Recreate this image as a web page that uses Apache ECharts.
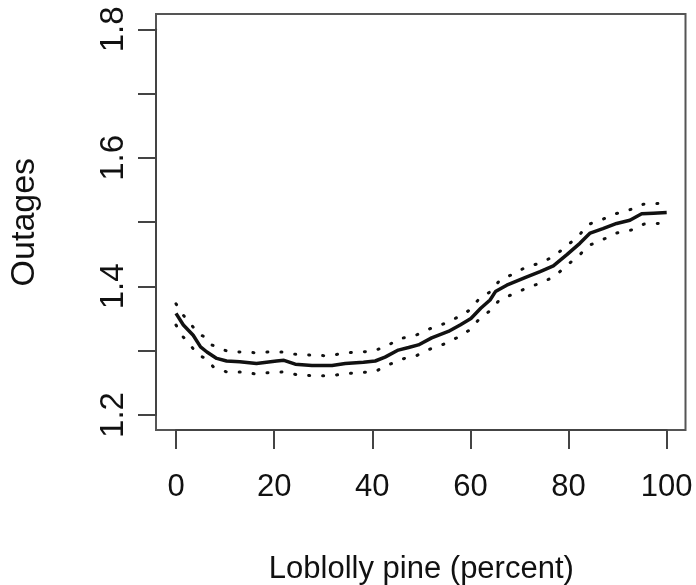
<!DOCTYPE html>
<html>
<head>
<meta charset="utf-8">
<script src="https://cdn.jsdelivr.net/npm/echarts@6/dist/echarts.min.js"></script>
<style>
  html, body { margin: 0; padding: 0; background: #fff; }
  #chart { width: 696px; height: 585px; }
</style>
</head>
<body>
<div id="chart"></div>
<script>
// Smoothed fit of outages against loblolly pine share, with its confidence band.
const pineFit = [0, 1.5, 3.5, 5, 6.3, 8.3, 10.3, 13, 16.4, 20.5, 22, 24.3, 27.7, 31.8, 34.5, 38.2, 40.6, 42.6, 45.3, 47.4, 49.4, 52.1, 55.5, 57.9, 60.1, 62.1, 64, 65.1, 67.4, 71.5, 74.2, 76.9, 79.6, 82.3, 84.4, 87, 89.8, 92.5, 94.9, 97.3, 100];
const outFit = [1.358, 1.340, 1.324, 1.306, 1.298, 1.288, 1.284, 1.283, 1.280, 1.284, 1.285, 1.279, 1.277, 1.277, 1.280, 1.282, 1.284, 1.290, 1.301, 1.305, 1.309, 1.320, 1.330, 1.340, 1.350, 1.366, 1.379, 1.392, 1.402, 1.415, 1.423, 1.432, 1.449, 1.467, 1.483, 1.490, 1.498, 1.503, 1.513, 1.514, 1.515];

const pineUpper = [0, 1.4, 3.0, 4.5, 6.1, 7.3, 10.2, 12.9, 15.9, 18.8, 21.7, 24.7, 28.0, 31.2, 34.0, 36.9, 40.0, 42.9, 45.6, 48.6, 51.3, 54.3, 57.1, 59.6, 61.7, 64.3, 65.9, 68.6, 71.3, 74.5, 77.2, 79.6, 82.0, 83.9, 86.8, 89.6, 92.4, 95.3, 98.3, 100];
const outUpper = [1.373, 1.356, 1.342, 1.326, 1.321, 1.309, 1.300, 1.298, 1.297, 1.298, 1.298, 1.294, 1.293, 1.292, 1.296, 1.298, 1.299, 1.307, 1.319, 1.323, 1.333, 1.341, 1.351, 1.362, 1.380, 1.393, 1.409, 1.419, 1.430, 1.437, 1.448, 1.463, 1.478, 1.496, 1.504, 1.513, 1.519, 1.528, 1.529, 1.529];

const pineLower = [0, 1.4, 3.0, 4.5, 6.1, 7.6, 10.3, 13.2, 16.1, 19.2, 22.0, 25.1, 28.2, 31.4, 34.3, 37.2, 40.4, 43.3, 46.0, 48.9, 51.6, 54.5, 57.2, 59.8, 61.9, 64.3, 66.0, 68.7, 71.6, 74.6, 77.2, 79.7, 82.1, 84.2, 87.0, 89.8, 92.9, 95.4, 98.6, 100];
const outLower = [1.340, 1.322, 1.308, 1.293, 1.288, 1.275, 1.267, 1.267, 1.264, 1.266, 1.267, 1.262, 1.261, 1.261, 1.264, 1.266, 1.267, 1.278, 1.287, 1.292, 1.302, 1.310, 1.320, 1.332, 1.350, 1.364, 1.380, 1.388, 1.398, 1.406, 1.416, 1.433, 1.448, 1.464, 1.473, 1.483, 1.488, 1.497, 1.498, 1.498];

const yTickLabels = ['1.2', '1.4', '1.6', '1.8'];
const xTitle = 'Loblolly pine (percent)';
const yTitle = 'Outages';

const FONT = '"Liberation Sans", Arial, Helvetica, sans-serif';
const AXIS_COLOR = '#444';
const TEXT_COLOR = '#111';

const zip = (xs, ys) => xs.map((x, i) => [x, ys[i]]);

const chart = echarts.init(document.getElementById('chart'), null, { renderer: 'canvas' });

const dottedStyle = {
  color: '#111',
  width: 3,
  type: [1, 13],
  cap: 'round'
};

chart.setOption({
  animation: false,
  backgroundColor: '#fff',
  grid: [
    // outer plot frame
    { left: 156, top: 14, width: 529.5, height: 416, show: true, borderColor: '#555', borderWidth: 2,
      backgroundColor: 'transparent', containLabel: false, outerBoundsMode: 'none' },
    // data region inside the frame
    { left: 176, top: 29.3, width: 490.7, height: 385.7, show: false,
      containLabel: false, outerBoundsMode: 'none' }
  ],
  xAxis: [
    { gridIndex: 0, type: 'value', show: false, min: 0, max: 1 },
    {
      gridIndex: 1, type: 'value', min: 0, max: 100, interval: 20, offset: 15,
      axisLine: { show: true, onZero: false, lineStyle: { color: AXIS_COLOR, width: 2 } },
      axisTick: { show: true, length: 19, lineStyle: { color: AXIS_COLOR, width: 2 } },
      axisLabel: { show: true, margin: 42, fontSize: 31, color: TEXT_COLOR, fontFamily: FONT },
      splitLine: { show: false },
      name: xTitle, nameLocation: 'middle', nameGap: 124,
      nameTextStyle: { fontSize: 31, color: TEXT_COLOR, fontFamily: FONT }
    }
  ],
  yAxis: [
    { gridIndex: 0, type: 'value', show: false, min: 0, max: 1 },
    {
      gridIndex: 1, type: 'value', min: 1.2, max: 1.8, interval: 0.1, offset: 20,
      axisLine: { show: true, onZero: false, lineStyle: { color: AXIS_COLOR, width: 2 } },
      axisTick: { show: true, length: 18, lineStyle: { color: AXIS_COLOR, width: 2 } },
      axisLabel: {
        show: true, rotate: 90, margin: 26, fontSize: 33, color: TEXT_COLOR, fontFamily: FONT,
        formatter: v => {
          const s = v.toFixed(1);
          return yTickLabels.includes(s) ? s : '';
        }
      },
      splitLine: { show: false },
      name: yTitle, nameLocation: 'middle', nameGap: 114,
      nameTextStyle: { fontSize: 34, color: TEXT_COLOR, fontFamily: FONT }
    }
  ],
  series: [
    {
      name: 'fit', type: 'line', xAxisIndex: 1, yAxisIndex: 1,
      data: zip(pineFit, outFit), showSymbol: false, smooth: false,
      lineStyle: { color: '#111', width: 3.5 }, z: 3
    },
    {
      name: 'upper', type: 'line', xAxisIndex: 1, yAxisIndex: 1,
      data: zip(pineUpper, outUpper), showSymbol: false,
      lineStyle: dottedStyle, z: 2
    },
    {
      name: 'lower', type: 'line', xAxisIndex: 1, yAxisIndex: 1,
      data: zip(pineLower, outLower), showSymbol: false,
      lineStyle: dottedStyle, z: 2
    }
  ]
});
</script>
</body>
</html>
